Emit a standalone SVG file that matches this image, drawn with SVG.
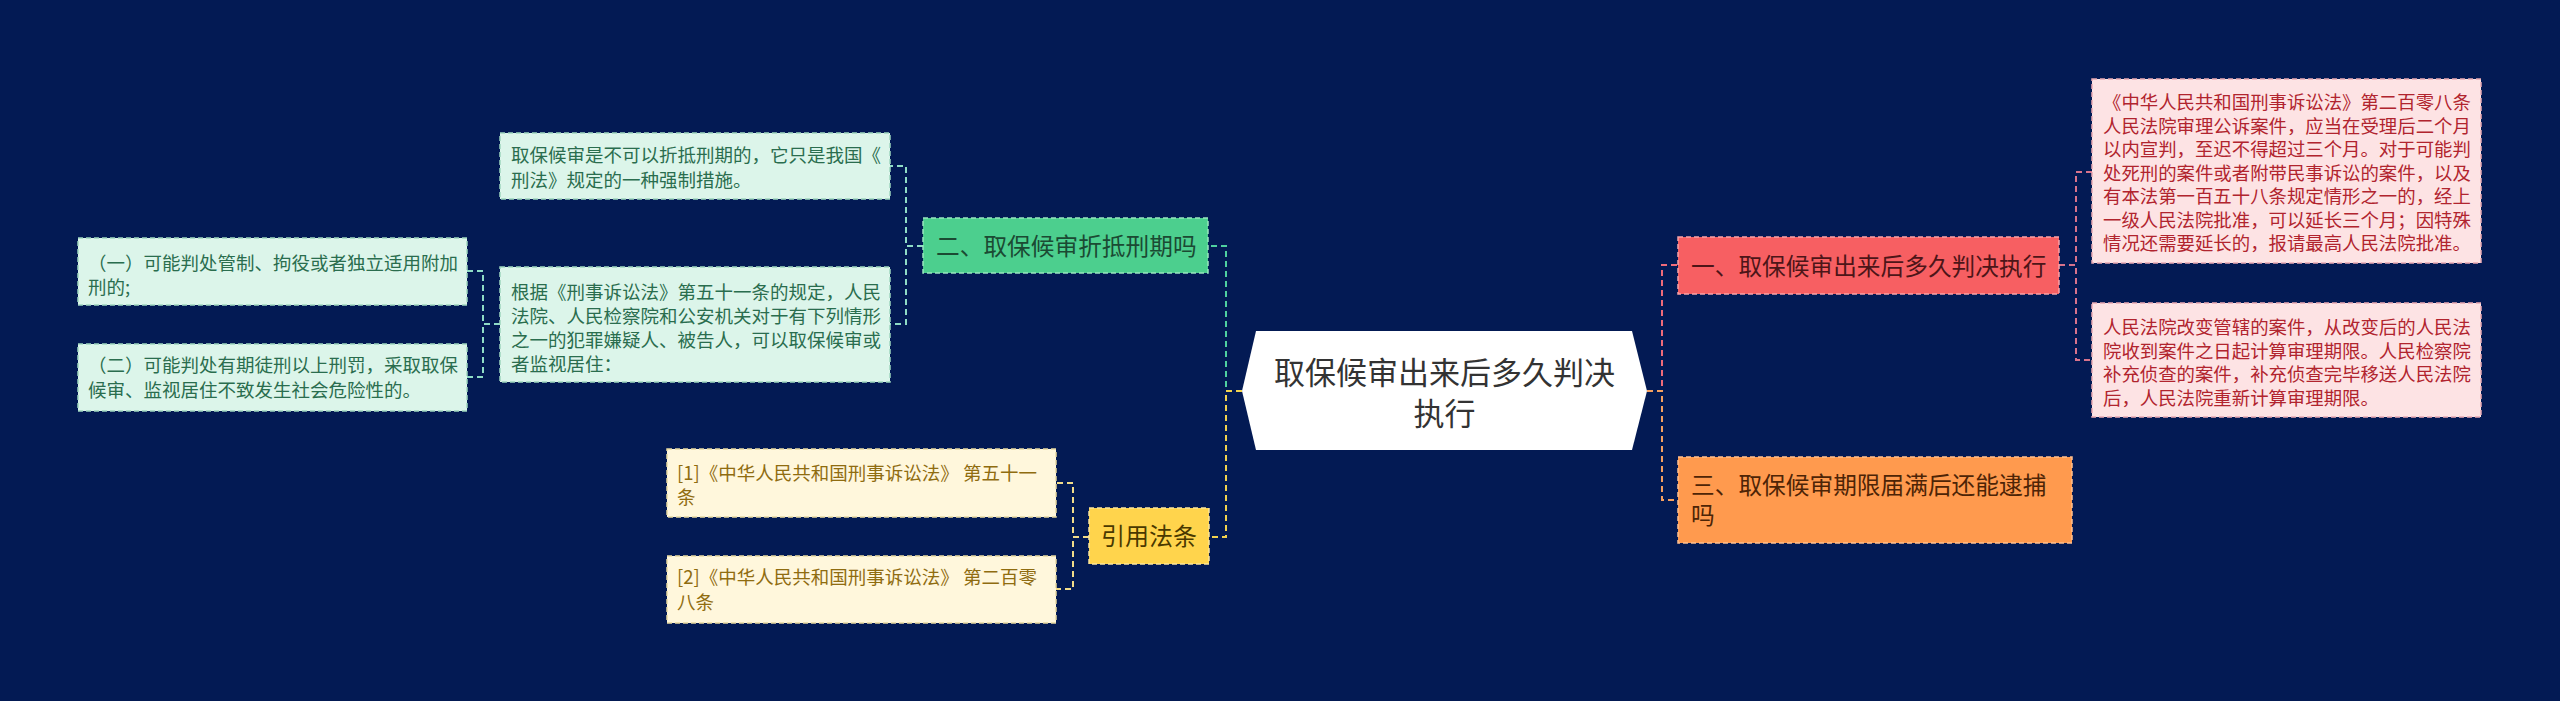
<svg xmlns="http://www.w3.org/2000/svg" width="2560" height="701" viewBox="0 0 2560 701">
<style>
text{font-family:"Noto Sans CJK SC","Noto Sans",sans-serif;}
.c{fill:none;stroke-width:2;stroke-dasharray:6,4;}
.bd{stroke-width:1.5;stroke-dasharray:5,3;}
.pk{fill:#fde3e4;stroke:#e9a9b2;}
.pkt{fill:#b1242e;font-size:18.4px;}
.gb{fill:#dcf5ea;stroke:#9fd6bf;}
.gbt{fill:#2a6d4e;font-size:18.5px;}
.yb{fill:#fff7dc;stroke:#e8d9a0;}
.ybt{fill:#8f6c10;font-size:18.5px;}
.mt{font-size:23.7px;}
</style>
<rect width="2560" height="701" fill="#031a54"/>
<g id="connectors">
<path class="c" stroke="#f06b7a" d="M1647,391 H1662 V265 H1678"/>
<path class="c" stroke="#f5a060" d="M1647,391 H1662 V500 H1678"/>
<path class="c" stroke="#d8738c" d="M2059,265 H2076 V172 H2092"/>
<path class="c" stroke="#d8738c" d="M2059,265 H2076 V360 H2092"/>
<path class="c" stroke="#4fd0a0" d="M1242,391 H1226 V246 H1208"/>
<path class="c" stroke="#f2d24e" d="M1242,391 H1226 V537 H1209"/>
<path class="c" stroke="#8fdcc6" d="M923,246 H906 V166 H890"/>
<path class="c" stroke="#8fdcc6" d="M923,246 H906 V324 H890"/>
<path class="c" stroke="#8fdcc6" d="M500,324 H483 V271 H467"/>
<path class="c" stroke="#8fdcc6" d="M500,324 H483 V377 H467"/>
<path class="c" stroke="#f2dc8a" d="M1089,537 H1073 V483 H1056"/>
<path class="c" stroke="#f2dc8a" d="M1089,537 H1073 V589 H1056"/>
</g>
<g id="root">
<polygon points="1242,391 1256,331 1632,331 1647,391 1632,450 1256,450" fill="#ffffff"/>
<text x="1444.5" y="384" font-size="31" fill="#333333" text-anchor="middle">取保候审出来后多久判决</text>
<text x="1444.5" y="425" font-size="31" fill="#333333" text-anchor="middle">执行</text>
</g>
<g id="n1">
<rect class="bd" x="1678" y="237" width="381" height="57" fill="#f75f62" stroke="#f9a3a8"/>
<text class="mt" x="1691" y="275" fill="#4d1518">一、取保候审出来后多久判决执行</text>
</g>
<g id="n1a">
<rect class="bd pk" x="2092" y="79" width="389" height="184"/>
<text class="pkt"><tspan x="2103" y="109">《中华人民共和国刑事诉讼法》第二百零八条</tspan><tspan x="2103" y="132.5">人民法院审理公诉案件，应当在受理后二个月</tspan><tspan x="2103" y="156">以内宣判，至迟不得超过三个月。对于可能判</tspan><tspan x="2103" y="179.5">处死刑的案件或者附带民事诉讼的案件，以及</tspan><tspan x="2103" y="203">有本法第一百五十八条规定情形之一的，经上</tspan><tspan x="2103" y="226.5">一级人民法院批准，可以延长三个月；因特殊</tspan><tspan x="2103" y="250">情况还需要延长的，报请最高人民法院批准。</tspan></text>
</g>
<g id="n1b">
<rect class="bd pk" x="2092" y="303" width="389" height="114"/>
<text class="pkt"><tspan x="2103" y="334">人民法院改变管辖的案件，从改变后的人民法</tspan><tspan x="2103" y="357.5">院收到案件之日起计算审理期限。人民检察院</tspan><tspan x="2103" y="381">补充侦查的案件，补充侦查完毕移送人民法院</tspan><tspan x="2103" y="404.5">后，人民法院重新计算审理期限。</tspan></text>
</g>
<g id="n3">
<rect class="bd" x="1678" y="457" width="394" height="86" fill="#ff9a4e" stroke="#ffc08f"/>
<text class="mt" fill="#4d2406"><tspan x="1691" y="494">三、取保候审期限届满后还能逮捕</tspan><tspan x="1691" y="524">吗</tspan></text>
</g>
<g id="n2">
<rect class="bd" x="923" y="218" width="285" height="55" fill="#4ccf8e" stroke="#98e6bf"/>
<text class="mt" x="936" y="255" fill="#1b4a33">二、取保候审折抵刑期吗</text>
</g>
<g id="n2a">
<rect class="bd gb" x="500" y="133" width="390" height="66"/>
<text class="gbt"><tspan x="511" y="162">取保候审是不可以折抵刑期的，它只是我国《</tspan><tspan x="511" y="187">刑法》规定的一种强制措施。</tspan></text>
</g>
<g id="n2b">
<rect class="bd gb" x="500" y="267" width="390" height="115"/>
<text class="gbt"><tspan x="511" y="299">根据《刑事诉讼法》第五十一条的规定，人民</tspan><tspan x="511" y="323">法院、人民检察院和公安机关对于有下列情形</tspan><tspan x="511" y="347">之一的犯罪嫌疑人、被告人，可以取保候审或</tspan><tspan x="511" y="371">者监视居住：</tspan></text>
</g>
<g id="n2b1">
<rect class="bd gb" x="78" y="238" width="389" height="67"/>
<text class="gbt"><tspan x="88" y="270">（一）可能判处管制、拘役或者独立适用附加</tspan><tspan x="88" y="294">刑的;</tspan></text>
</g>
<g id="n2b2">
<rect class="bd gb" x="78" y="344" width="389" height="67"/>
<text class="gbt"><tspan x="88" y="372">（二）可能判处有期徒刑以上刑罚，采取取保</tspan><tspan x="88" y="397">候审、监视居住不致发生社会危险性的。</tspan></text>
</g>
<g id="n4">
<rect class="bd" x="1089" y="508" width="120" height="56" fill="#ffd44c" stroke="#fbe59a"/>
<text x="1149" y="545" font-size="24" fill="#4a3900" text-anchor="middle">引用法条</text>
</g>
<g id="n4a">
<rect class="bd yb" x="667" y="449" width="389" height="68"/>
<text class="ybt"><tspan x="677" y="480">[1]《中华人民共和国刑事诉讼法》 第五十一</tspan><tspan x="677" y="504">条</tspan></text>
</g>
<g id="n4b">
<rect class="bd yb" x="667" y="556" width="389" height="67"/>
<text class="ybt"><tspan x="677" y="584">[2]《中华人民共和国刑事诉讼法》 第二百零</tspan><tspan x="677" y="609">八条</tspan></text>
</g>
</svg>
